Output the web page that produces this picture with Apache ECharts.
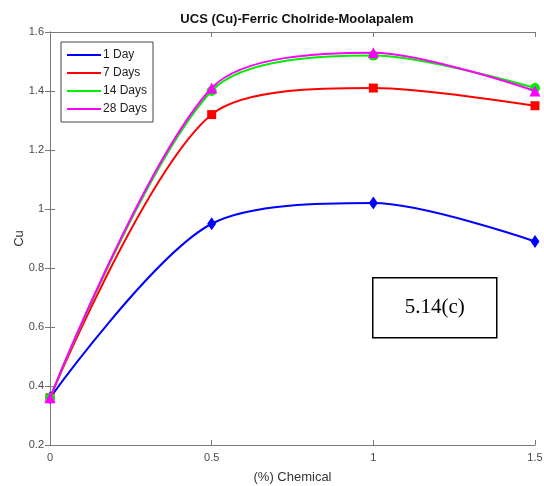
<!DOCTYPE html>
<html><head><meta charset="utf-8">
<script src="https://cdn.jsdelivr.net/npm/echarts@6/dist/echarts.min.js"></script>
<style>html,body{margin:0;padding:0;background:#fff}#c{width:544px;height:486px}</style>
</head><body><div id="c"></div>
<script>
const chemical = [0, 0.5, 1, 1.5];
const day1 = [0.36, 0.95, 1.02, 0.89];
const day7 = [0.36, 1.32, 1.41, 1.35];
const day14 = [0.36, 1.40, 1.52, 1.41];
const day28 = [0.36, 1.41, 1.53, 1.40];
const seriesNames = ['1 Day', '7 Days', '14 Days', '28 Days'];
const colors = ['#0000ff', '#ff0000', '#00ee00', '#ff00ff'];
const symbols = ['diamond', 'rect', 'circle', 'triangle'];
const symbolSizes = [[9, 13], 9, 10, 11];
const allData = [day1, day7, day14, day28];

const font = 'Liberation Sans, Arial, sans-serif';
const axisCol = '#7a7a7a';
const labelCol = '#4a4a4a';

const chart = echarts.init(document.getElementById('c'), null, {renderer: 'canvas'});
const series = allData.map((vals, i) => ({
  name: seriesNames[i],
  type: 'line',
  data: vals.map((v, j) => [chemical[j], v]),
  smooth: 0.3,
  symbol: symbols[i],
  symbolSize: symbolSizes[i],
  showAllSymbol: true,
  lineStyle: {width: 2, color: colors[i]},
  itemStyle: {color: colors[i]},
  z: 2 + i
}));

chart.setOption({
  animation: false,
  title: {
    text: 'UCS (Cu)-Ferric Cholride-Moolapalem',
    left: 292, top: 8, textAlign: 'center',
    textStyle: {fontFamily: font, fontSize: 13, fontWeight: 'bold', color: '#111'}
  },
  grid: {left: 50, right: 9, top: 32, bottom: 41, containLabel: false, outerBoundsMode: 'none'},
  legend: {
    orient: 'vertical', left: 61, top: 42,
    icon: 'rect', itemWidth: 34, itemHeight: 2, itemGap: 6,
    padding: [7, 6, 7, 6],
    borderColor: '#444', borderWidth: 1, backgroundColor: '#fff',
    textStyle: {fontFamily: font, fontSize: 12, color: '#222', padding: [0, 0, 0, -3]},
    data: seriesNames
  },
  xAxis: [{
    type: 'value', min: 0, max: 1.5, interval: 0.5,
    name: '(%) Chemical', nameLocation: 'middle', nameGap: 26,
    nameTextStyle: {fontFamily: font, fontSize: 13, color: '#333'},
    axisLine: {lineStyle: {color: axisCol}},
    axisTick: {inside: true, length: 5, lineStyle: {color: axisCol}},
    axisLabel: {fontFamily: font, fontSize: 11, color: labelCol, margin: 7},
    splitLine: {show: false}
  }, {
    type: 'value', min: 0, max: 1.5, interval: 0.5, position: 'top',
    axisLine: {show: true, lineStyle: {color: axisCol}},
    axisTick: {inside: true, length: 5, lineStyle: {color: axisCol}},
    axisLabel: {show: false}, splitLine: {show: false}
  }],
  yAxis: [{
    type: 'value', min: 0.2, max: 1.6, interval: 0.2,
    name: 'Cu', nameLocation: 'middle', nameGap: 24, nameMoveOverlap: false,
    nameTextStyle: {fontFamily: font, fontSize: 13, color: '#333'},
    axisLine: {show: true, lineStyle: {color: axisCol}},
    axisTick: {show: true, inside: true, length: 5, lineStyle: {color: axisCol}},
    axisLabel: {fontFamily: font, fontSize: 11, color: labelCol, margin: 6,
      formatter: v => (Math.round(v * 10) / 10).toString()},
    splitLine: {show: false}
  }, {
    type: 'value', min: 0.2, max: 1.6, interval: 0.2, position: 'right',
    axisLine: {show: true, lineStyle: {color: axisCol}},
    axisTick: {show: true, inside: true, length: 5, lineStyle: {color: axisCol}},
    axisLabel: {show: false}, splitLine: {show: false}
  }],
  graphic: [{
    type: 'group', left: 372, top: 277,
    children: [{
      type: 'rect', shape: {x: 0, y: 0, width: 124, height: 60},
      style: {fill: '#fff', stroke: '#000', lineWidth: 1.5}
    }, {
      type: 'text', x: 62, y: 30,
      style: {text: '5.14(c)', font: '21px "Liberation Serif", "Times New Roman", serif',
        fill: '#000', align: 'center', verticalAlign: 'middle'}
    }]
  }],
  series: series
});
</script></body></html>
